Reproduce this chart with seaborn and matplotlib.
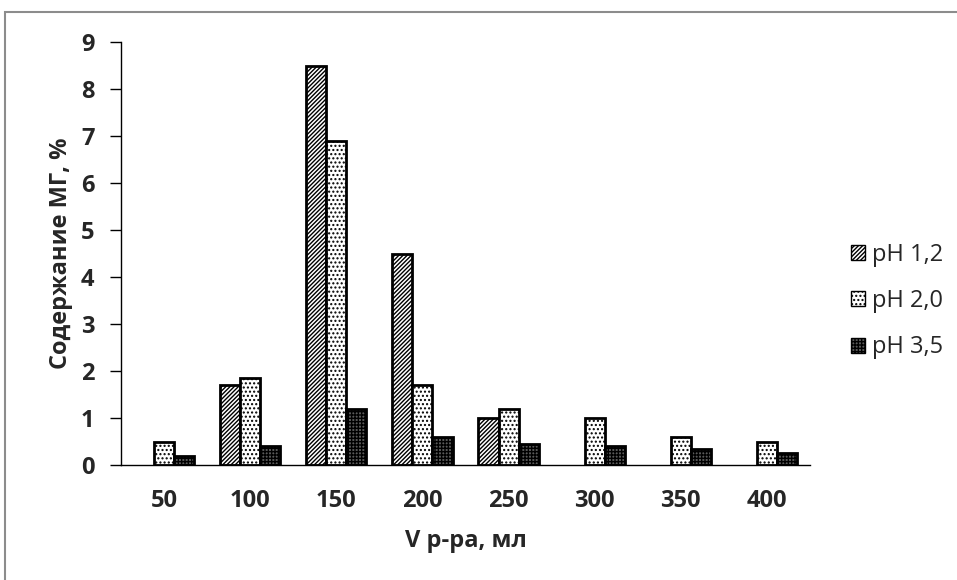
import numpy as np
import pandas as pd
import matplotlib
matplotlib.use("Agg")
import matplotlib.pyplot as plt
import seaborn as sns
from matplotlib.patches import Rectangle, Patch

# Solution volume, ml
volumes = ["50", "100", "150", "200", "250", "300", "350", "400"]
# MG content (%) for each pH of the eluent
ph_1_2 = [np.nan, 1.7, 8.5, 4.5, 1.0, np.nan, np.nan, np.nan]
ph_2_0 = [0.5, 1.85, 6.9, 1.7, 1.2, 1.0, 0.6, 0.5]
ph_3_5 = [0.2, 0.4, 1.2, 0.6, 0.45, 0.4, 0.35, 0.25]
series_names = ["pH 1,2", "pH 2,0", "pH 3,5"]

df = pd.DataFrame({
    "volume": volumes * 3,
    "value": ph_1_2 + ph_2_0 + ph_3_5,
    "series": np.repeat(series_names, len(volumes)),
})

sns.set_theme(style="white")
plt.rcParams["font.family"] = ["Open Sans", "DejaVu Sans"]
plt.rcParams["hatch.linewidth"] = 1.0
plt.rcParams["hatch.color"] = "black"

fig = plt.figure(figsize=(9.57, 5.8), dpi=100)
ax = fig.add_axes([0.1264, 0.198, 0.7200, 0.7296])

sns.barplot(data=df, x="volume", y="value", hue="series", order=volumes,
            hue_order=series_names, width=0.7, ax=ax, legend=False,
            edgecolor="black", linewidth=2.0)

styles = [
    dict(facecolor="white", hatch="////////"),
    dict(facecolor="white", hatch="...."),
    dict(facecolor="#5a5a5a", hatch="+++++"),
]
for cont, st in zip(ax.containers, styles):
    for bar in cont:
        bar.set_facecolor(st["facecolor"])
        bar.set_hatch(st["hatch"])
        bar.set_edgecolor("black")

fs = 17
ax.set_ylim(0, 9)
ax.set_xlim(-0.5, len(volumes) - 0.5)
ax.set_yticks(range(0, 10))
ax.set_yticklabels([str(i) for i in range(0, 10)], fontweight="bold", fontsize=fs)
ax.set_xticks(range(len(volumes)))
ax.set_xticklabels(volumes, fontweight="bold", fontsize=fs)
ax.tick_params(axis="x", length=0, pad=17)
ax.set_xticks(np.arange(-0.5, len(volumes)), minor=True)
ax.tick_params(axis="x", which="minor", length=8, width=1.0, color="black", direction="out")
ax.tick_params(axis="y", length=8, width=1.0, color="black", direction="out", left=True, pad=11)

for side in ["top", "right"]:
    ax.spines[side].set_visible(False)
for side in ["left", "bottom"]:
    ax.spines[side].set_color("black")
    ax.spines[side].set_linewidth(1.0)

ax.set_xlabel("V р-ра, мл", fontweight="bold", fontsize=fs, labelpad=12)
ax.set_ylabel("Содержание МГ, %", fontweight="bold", fontsize=fs, labelpad=6)

handles = [Patch(facecolor=st["facecolor"], hatch=st["hatch"], edgecolor="black")
           for st in styles]
fig.legend(handles, series_names, loc="center left", bbox_to_anchor=(0.889, 0.481),
           frameon=False, fontsize=fs, labelspacing=0.95, handlelength=0.6,
           handleheight=0.6, handletextpad=0.3, borderpad=0, borderaxespad=0)

# chart frame
fig.patches.append(Rectangle((5 / 957, -0.05), 1.1, (580 - 12) / 580 + 0.05,
                             transform=fig.transFigure, fill=False,
                             edgecolor="#8c8c8c", linewidth=1.5))

fig.savefig("out.png", dpi=100)
